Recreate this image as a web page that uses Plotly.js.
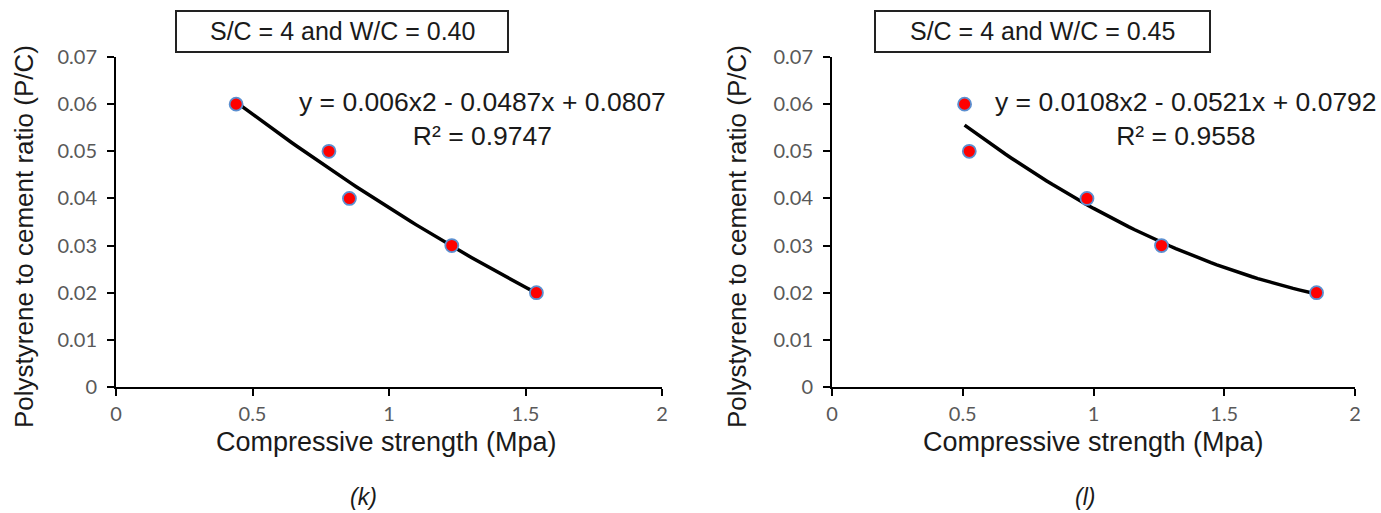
<!DOCTYPE html>
<html>
<head>
<meta charset="utf-8">
<script src="https://cdn.plot.ly/plotly-3.0.1.min.js"></script>
<style>html,body{margin:0;padding:0;background:#fff;}#chart{width:1381px;height:513px;}</style>
</head>
<body>
<div id="chart"></div>
<script>
// ---- data ----
const leftStrength = [0.44, 0.78, 0.855, 1.23, 1.54];
const leftPC       = [0.06, 0.05, 0.04, 0.03, 0.02];
const rightStrength = [0.507, 0.525, 0.975, 1.26, 1.853];
const rightPC       = [0.06, 0.05, 0.04, 0.03, 0.02];
// trendline coefficients shown on the chart: [a, b, c] for a*x^2 + b*x + c
const leftFit  = [0.006, -0.0487, 0.0807];
const rightFit = [0.0108, -0.0521, 0.0792];
const leftEq  = ["y = 0.006x2 - 0.0487x + 0.0807", "R² = 0.9747"];
const rightEq = ["y = 0.0108x2 - 0.0521x + 0.0792", "R² = 0.9558"];
const panelTitles = ["S/C = 4 and W/C = 0.40", "S/C = 4 and W/C = 0.45"];
const captions = ["(k)", "(l)"];
const xTitle = "Compressive strength (Mpa)";
const yTitle = "Polystyrene to cement ratio (P/C)";
const xTicks = [0, 0.5, 1, 1.5, 2];
const yTicks = [0, 0.01, 0.02, 0.03, 0.04, 0.05, 0.06, 0.07];

function fitCurve(xs, coef) {
  const x0 = Math.min(...xs), x1 = Math.max(...xs);
  const n = 60, X = [], Y = [];
  for (let i = 0; i <= n; i++) {
    const x = x0 + (x1 - x0) * i / n;
    X.push(x); Y.push(coef[0]*x*x + coef[1]*x + coef[2]);
  }
  return {X, Y};
}

const W = 1381, H = 513;
const px = v => v / W, py = v => 1 - v / H;

const lc = fitCurve(leftStrength, leftFit);
const rc = fitCurve(rightStrength, rightFit);

const marker = {color: '#ff0000', size: 13, line: {color: '#5b8fd0', width: 1.8}};
const traces = [
  {x: lc.X, y: lc.Y, xaxis: 'x', yaxis: 'y', mode: 'lines', line: {color: '#000', width: 3.5}, hoverinfo: 'skip'},
  {x: leftStrength, y: leftPC, xaxis: 'x', yaxis: 'y', mode: 'markers', marker: marker},
  {x: rc.X, y: rc.Y, xaxis: 'x2', yaxis: 'y2', mode: 'lines', line: {color: '#000', width: 3.5}, hoverinfo: 'skip'},
  {x: rightStrength, y: rightPC, xaxis: 'x2', yaxis: 'y2', mode: 'markers', marker: marker}
];

const tickFont = {family: 'Lato, "Open Sans", sans-serif', size: 20, color: '#595959'};
function xax(dom, anchor) {
  return {domain: dom, anchor: anchor, range: [0, 2], tickvals: xTicks, ticktext: xTicks.map(String),
    showgrid: false, zeroline: false, showline: true, linecolor: '#000', linewidth: 2,
    ticks: 'outside', ticklen: 7, tickwidth: 2, tickcolor: '#000', tickfont: tickFont, ticklabelstandoff: 1, fixedrange: true};
}
function yax(anchor) {
  return {domain: [py(387), py(57)], anchor: anchor, range: [0, 0.07], tickvals: yTicks, ticktext: yTicks.map(String),
    showgrid: false, zeroline: false, showline: true, linecolor: '#000', linewidth: 2,
    ticks: 'outside', ticklen: 7, tickwidth: 2, tickcolor: '#000', tickfont: tickFont, ticklabelstandoff: 6, fixedrange: true};
}

const fam = '"Liberation Sans", Arial, sans-serif';
const col = '#1a1a1a';
const ann = [];
const shapes = [];
function addPanel(i, boxL, boxR, plotCx, eqCx, ytx, capX, eq) {
  shapes.push({type: 'rect', xref: 'paper', yref: 'paper', x0: px(boxL), x1: px(boxR), y0: py(52), y1: py(11),
    line: {color: '#222', width: 2}, fillcolor: 'rgba(0,0,0,0)'});
  ann.push({xref: 'paper', yref: 'paper', x: px((boxL + boxR) / 2), y: py(31.5), text: panelTitles[i], showarrow: false,
    xanchor: 'center', yanchor: 'middle', font: {family: fam, size: 25, color: col}});
  ann.push({xref: 'paper', yref: 'paper', x: px(eqCx), y: py(119), text: eq[0] + '<br>' + eq[1], showarrow: false,
    xanchor: 'center', yanchor: 'middle', align: 'center', font: {family: fam, size: 26.5, color: col}});
  ann.push({xref: 'paper', yref: 'paper', x: px(plotCx), y: py(442), text: xTitle, showarrow: false,
    xanchor: 'center', yanchor: 'middle', font: {family: fam, size: 27, color: col}});
  ann.push({xref: 'paper', yref: 'paper', x: px(ytx), y: py(237), text: yTitle, showarrow: false, textangle: -90,
    xanchor: 'center', yanchor: 'middle', font: {family: fam, size: 26, color: col}});
  ann.push({xref: 'paper', yref: 'paper', x: px(capX), y: py(497), text: '<i>' + captions[i] + '</i>', showarrow: false,
    xanchor: 'center', yanchor: 'middle', font: {family: fam, size: 23, color: col}});
}
addPanel(0, 176, 508, 386, 482, 24, 363, leftEq);
addPanel(1, 875, 1210, 1093, 1186, 737, 1085, rightEq);

const layout = {
  width: W, height: H, margin: {l: 0, r: 0, t: 0, b: 0},
  paper_bgcolor: '#fff', plot_bgcolor: '#fff', showlegend: false,
  xaxis: xax([px(116), px(662)], 'y'),
  yaxis: yax('x'),
  xaxis2: xax([px(832), px(1355)], 'y2'),
  yaxis2: yax('x2'),
  annotations: ann, shapes: shapes
};
Plotly.newPlot('chart', traces, layout, {displayModeBar: false, staticPlot: true});
</script>
</body>
</html>
